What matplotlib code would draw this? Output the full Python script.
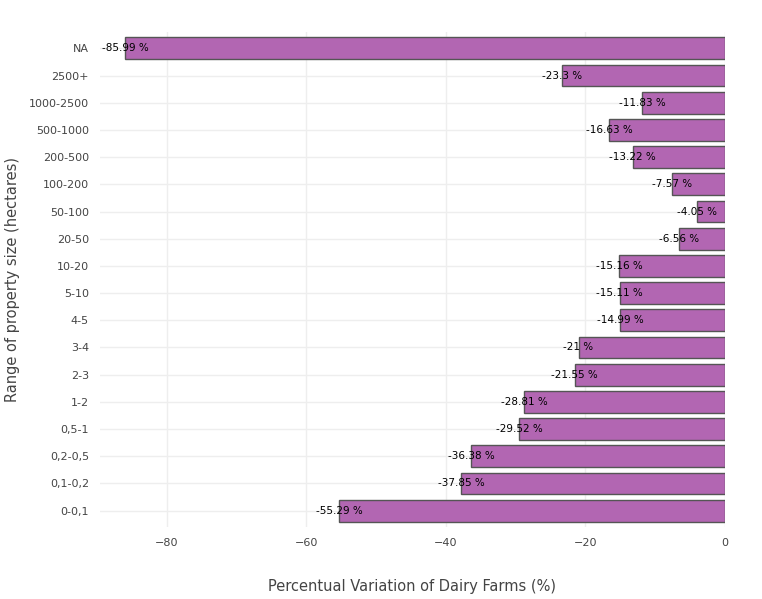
import matplotlib.pyplot as plt

categories = ['0-0,1', '0,1-0,2', '0,2-0,5', '0,5-1', '1-2', '2-3', '3-4', '4-5', '5-10',
              '10-20', '20-50', '50-100', '100-200', '200-500', '500-1000', '1000-2500',
              '2500+', 'NA']
values = [-55.29, -37.85, -36.38, -29.52, -28.81, -21.55, -21, -14.99, -15.11,
          -15.16, -6.56, -4.05, -7.57, -13.22, -16.63, -11.83, -23.3, -85.99]
labels = ['-55.29 %', '-37.85 %', '-36.38 %', '-29.52 %', '-28.81 %', '-21.55 %', '-21 %',
          '-14.99 %', '-15.11 %', '-15.16 %', '-6.56 %', '-4.05 %', '-7.57 %', '-13.22 %',
          '-16.63 %', '-11.83 %', '-23.3 %', '-85.99 %']

fig = plt.figure(figsize=(7.62, 5.99), dpi=100)
ax = fig.add_axes([100 / 762, 72 / 599, 625 / 762, 495 / 599])

y = range(len(categories))
ax.barh(y, values, height=0.8, color='#b266b2', edgecolor='#555555', linewidth=1, zorder=2)
for yi, v, lab in zip(y, values, labels):
    ax.text(v, yi, lab, ha='center', va='center', fontsize=7.5, color='black', zorder=3)

ax.set_xlim(-89.6, 0)
ax.set_ylim(-0.6, len(categories) - 0.4)
ax.set_yticks(list(y))
ax.set_yticklabels(categories)
ax.set_xticks([-80, -60, -40, -20, 0])
ax.set_xticklabels(['\u221280', '\u221260', '\u221240', '\u221220', '0'])
ax.grid(True, color='#eeeeee', linewidth=1, zorder=0)
ax.set_axisbelow(True)
for s in ax.spines.values():
    s.set_visible(False)
ax.tick_params(length=0, labelsize=8, colors='#444444', pad=8)
ax.set_xlabel('Percentual Variation of Dairy Farms (%)', fontsize=10.5, color='#444444', labelpad=22)
ax.set_ylabel('Range of property size (hectares)', fontsize=10.5, color='#444444', labelpad=6)

fig.savefig('out.png', dpi=100)
